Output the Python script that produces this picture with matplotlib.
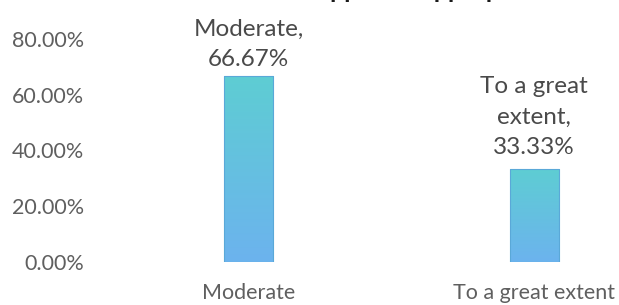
import numpy as np
import matplotlib.pyplot as plt
from matplotlib.colors import LinearSegmentedColormap

# Data
categories = ["Moderate", "To a great extent"]
values = [66.67, 33.33]
bar_labels = ["Moderate,\n66.67%", "To a great\nextent,\n33.33%"]
yticks = [0, 20, 40, 60, 80]
title = "Extent to which the support is appropriate"

plt.rcParams['font.family'] = ['Lato', 'DejaVu Sans']

fig = plt.figure(figsize=(6.19, 3.05), dpi=100)
# axes runs past the right edge (the reference is cropped there)
ax = fig.add_axes([106 / 619, 43 / 305, 571 / 619, 223 / 305])

x = np.arange(len(categories))
bw = 0.173
bars = ax.bar(x, values, width=bw, color='none', edgecolor='#5aa8d8',
              linewidth=0.8, zorder=3)

# vertical gradient fill: teal at top, blue at bottom
cmap = LinearSegmentedColormap.from_list('g', ['#6cb3ee', '#5ecdd3'])
grad = np.linspace(0, 1, 256).reshape(-1, 1)
for b in bars:
    x0, w, h = b.get_x(), b.get_width(), b.get_height()
    im = ax.imshow(grad, cmap=cmap, origin='lower', aspect='auto',
                   extent=[x0, x0 + w, 0, h], zorder=2)
    im.set_clip_path(b)

# data labels sit a little above each bar
label_offsets = [6, 11]
for xi, v, lab, off in zip(x, values, bar_labels, label_offsets):
    ax.annotate(lab, (xi, v), xytext=(0, off), textcoords='offset pixels',
                ha='center', va='bottom', fontsize=17.5, color='#4a4a4a',
                linespacing=1.55)

ax.set_xlim(-0.5, 1.5)
ax.set_ylim(0, 80)
ax.set_yticks(yticks)
ax.set_yticklabels([f"{t:.2f}%" for t in yticks])
ax.set_xticks(x)
ax.set_xticklabels(categories)
ax.tick_params(axis='both', length=0, labelsize=15.5, colors='#5f5f5f')
ax.tick_params(axis='x', pad=15)
ax.tick_params(axis='y', pad=16)
for s in ax.spines.values():
    s.set_visible(False)

# title is cut by the top edge in the reference, only descenders show
fig.text(0.51, 1.0 + 1.5 / 305, title, ha='center', va='baseline',
         fontsize=18, fontweight='bold', color='#1a1a1a')

fig.savefig('out.png', dpi=100)
